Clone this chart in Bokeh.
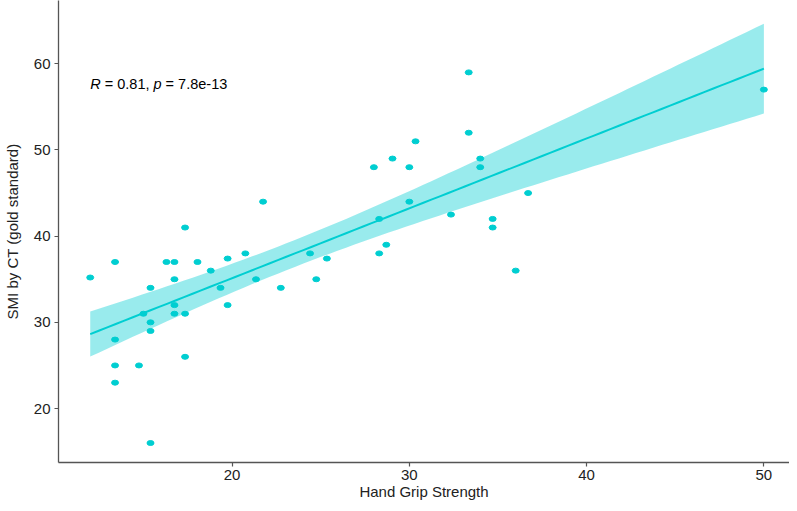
import numpy as np
from bokeh.plotting import figure
from bokeh.models import Range1d, FixedTicker
from bokeh.core.properties import value
from bokeh.embed import file_html
from bokeh.resources import INLINE

# Hand grip strength (x) and SMI by CT (y)
grip = [12.0, 13.4, 13.4, 13.4, 13.4, 14.75, 15.0, 15.4, 15.4, 15.4, 15.4,
        16.3, 16.75, 16.75, 16.75, 16.75, 17.35, 17.35, 17.35, 18.05, 18.8,
        19.35, 19.75, 19.75, 20.75, 21.35, 21.75, 22.75, 24.4, 24.75, 25.35,
        28.0, 28.3, 28.3, 28.7, 29.05, 30.0, 30.35, 30.0, 32.35, 33.35, 33.35,
        34.0, 34.0, 34.7, 34.7, 36.0, 36.7, 50.0]
smi = [35.2, 37, 28, 25, 23, 25, 31, 34, 30, 29, 16,
       37, 37, 35, 32, 31, 31, 26, 41, 37, 36,
       34, 37.4, 32, 38, 35, 44, 34, 38, 35, 37.4,
       48, 42, 38, 39, 49, 48, 51, 44, 42.5, 52, 59,
       49, 48, 42, 41, 36, 45, 57]

x_ticks = [20, 30, 40, 50]
y_ticks = [20, 30, 40, 50, 60]
label_parts = ["R", "= 0.81,", "p", "= 7.8e-13"]
label_styles = ["italic", "normal", "italic", "normal"]

COL = "#00CED1"
FONT = "Liberation Sans"

x = np.array(grip, dtype=float)
y = np.array(smi, dtype=float)
n = len(x)
b1, b0 = np.polyfit(x, y, 1)
xs = np.linspace(x.min(), x.max(), 80)
yhat = b0 + b1 * xs
resid = y - (b0 + b1 * x)
s = np.sqrt(np.sum(resid ** 2) / (n - 2))
sxx = np.sum((x - x.mean()) ** 2)
tcrit = 2.0117  # t(0.975, df=47)
se = s * np.sqrt(1.0 / n + (xs - x.mean()) ** 2 / sxx)
lo = yhat - tcrit * se
hi = yhat + tcrit * se

p = figure(width=789, height=503, output_backend="svg", toolbar_location=None,
           x_range=Range1d(10.21, 51.445), y_range=Range1d(13.74, 67.34),
           min_border_left=56, min_border_right=0, min_border_top=0,
           min_border_bottom=41)
p.outline_line_color = None
p.xgrid.visible = False
p.ygrid.visible = False
p.background_fill_color = "white"

p.varea(x=xs, y1=lo, y2=hi, fill_color=COL, fill_alpha=0.4)
p.line(xs, yhat, line_color=COL, line_width=2)
p.ellipse(x=x, y=y, width=7, height=5, width_units="screen",
          height_units="screen", fill_color=COL, line_color=COL)

# annotation "R = 0.81, p = 7.8e-13" with italic R and p
fs = 14.5
offs_units = [0, 1000, 4364, 5198]  # Arial advance widths (1/1000 em)
for part, off, st in zip(label_parts, offs_units, label_styles):
    p.text(x=[float(x.min())], y=[57.65], text=[part], x_offset=off * fs / 1000.0,
           text_font=value(FONT), text_font_size=f"{fs}px",
           text_font_style=st, text_color="black",
           text_align="left", text_baseline="middle")

for ax in (p.xaxis[0], p.yaxis[0]):
    ax.axis_line_color = "#555555"
    ax.axis_line_width = 1.3
    ax.major_tick_line_color = "#555555"
    ax.major_tick_line_width = 1.2
    ax.major_tick_in = 0
    ax.major_tick_out = 4
    ax.minor_tick_line_color = None
    ax.major_label_text_font = FONT
    ax.major_label_text_font_size = "15px"
    ax.major_label_text_color = "#222222"
    ax.axis_label_text_font = FONT
    ax.axis_label_text_font_size = "15px"
    ax.axis_label_text_font_style = "normal"
    ax.axis_label_text_color = "#222222"

p.xaxis.ticker = FixedTicker(ticks=x_ticks)
p.yaxis.ticker = FixedTicker(ticks=y_ticks)
p.xaxis.axis_label = "Hand Grip Strength"
p.yaxis.axis_label = "SMI by CT (gold standard)"
p.xaxis.major_label_standoff = 3
p.xaxis.axis_label_standoff = 0
p.yaxis.major_label_standoff = 4
p.yaxis.axis_label_standoff = 10

open("out.html", "w").write(file_html(p, INLINE))
